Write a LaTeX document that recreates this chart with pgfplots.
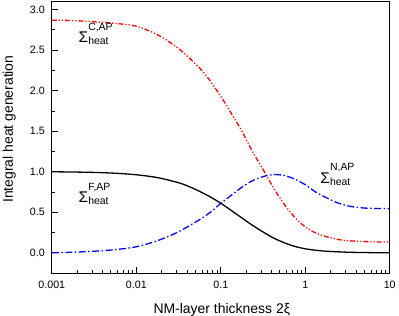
\documentclass[border=0pt]{standalone}
\usepackage{fontspec}
\setmainfont{Liberation Sans}
\usepackage{pgfplots}
\pgfplotsset{compat=1.18}
\newcommand{\siglab}[1]{{\fontsize{15.5}{15.5}\selectfont Σ}{\fontsize{10.5}{10.5}\selectfont\rlap{\raisebox{12.3pt}{#1}}\raisebox{-2pt}{heat}}}
\begin{document}
\begin{tikzpicture}
\begin{axis}[
  name=ax,
  scale only axis,
  width=339pt, height=272.5pt,
  xmode=log, xmin=0.001, xmax=10,
  ymin=-0.25, ymax=3.1,
  xtick={0.001,0.01,0.1,1,10},
  xticklabels={0.001,0.01,0.1,1,10},
  minor xtick={0.002,0.003,0.004,0.005,0.006,0.007,0.008,0.009,
               0.02,0.03,0.04,0.05,0.06,0.07,0.08,0.09,
               0.2,0.3,0.4,0.5,0.6,0.7,0.8,0.9,
               2,3,4,5,6,7,8,9},
  ytick={0,0.5,1,1.5,2,2.5,3},
  minor ytick={-0.25,0.25,0.75,1.25,1.75,2.25,2.75},
  tick align=inside,
  tick pos=left,
  major tick length=6pt, minor tick length=3.5pt,
  axis line style={line width=1pt},
  every tick/.style={line width=0.8pt, black},
  /pgf/number format/assume math mode=true,
  y tick label style={/pgf/number format/fixed, /pgf/number format/fixed zerofill, /pgf/number format/precision=1, xshift=-3.5pt},
  x tick label style={yshift=-4.5pt},
  tick label style={font=\fontsize{10.7}{12}\selectfont},
  xlabel={NM-layer thickness 2ξ},
  ylabel={Integral heat generation},
  label style={font=\fontsize{14}{16}\selectfont},
  xlabel style={at={(axis description cs:0.503,-0.147)}, anchor=base, inner sep=0pt},
  ylabel style={at={(axis description cs:-0.106,0.53)}, anchor=south, inner sep=0pt},
  clip=true,
]
% C,AP (red, dash-dot-dot)
\addplot[red, line width=1.3pt, smooth,
  dash pattern=on 5pt off 2pt on 1.2pt off 2pt on 1.2pt off 2pt] coordinates {
  (0.001,2.87)(0.00178,2.865)(0.00316,2.85)(0.00562,2.83)(0.01,2.795)
  (0.0178,2.69)(0.0316,2.52)(0.0562,2.28)(0.075,2.12)(0.1,1.93)
  (0.133,1.72)(0.178,1.50)(0.237,1.25)(0.316,1.03)(0.422,0.80)
  (0.562,0.60)(0.75,0.44)(1,0.32)(1.33,0.245)(1.78,0.20)
  (2.37,0.168)(3.16,0.15)(5.62,0.137)(10,0.133)};
% N,AP (blue, dash-dot)
\addplot[blue, line width=1.3pt, smooth,
  dash pattern=on 7pt off 2.5pt on 1.5pt off 2.5pt] coordinates {
  (0.001,0)(0.00178,0.008)(0.00316,0.02)(0.00562,0.04)(0.01,0.075)
  (0.0178,0.15)(0.0316,0.26)(0.0562,0.41)(0.075,0.50)(0.1,0.61)
  (0.133,0.71)(0.178,0.81)(0.237,0.89)(0.316,0.94)(0.422,0.965)
  (0.562,0.955)(0.75,0.91)(1,0.84)(1.33,0.75)(1.78,0.68)
  (2.37,0.62)(3.16,0.58)(4.22,0.56)(5.62,0.55)(10,0.545)};
% F,AP (black, solid)
\addplot[black, line width=1.3pt, smooth] coordinates {
  (0.001,1.0)(0.00178,0.997)(0.00316,0.992)(0.00562,0.982)(0.01,0.963)
  (0.0178,0.928)(0.0316,0.865)(0.0422,0.817)(0.0562,0.758)(0.075,0.69)(0.1,0.612)
  (0.133,0.523)(0.178,0.43)(0.237,0.34)(0.316,0.258)(0.422,0.183)
  (0.562,0.125)(0.75,0.08)(1,0.05)(1.33,0.032)(1.78,0.02)
  (3.16,0.008)(5.62,0.003)(10,0.0)};
\node[anchor=base west, inner sep=0pt] at (axis cs:0.00207,2.593) {\siglab{C,AP}};
\node[anchor=base west, inner sep=0pt] at (axis cs:0.00207,0.617) {\siglab{F,AP}};
\node[anchor=base west, inner sep=0pt] at (axis cs:1.506,0.859) {\siglab{N,AP}};
\end{axis}
\path ([shift={(-52pt,-43pt)}]ax.south west) rectangle ([shift={(8pt,1.5pt)}]ax.north east);
\end{tikzpicture}
\end{document}
